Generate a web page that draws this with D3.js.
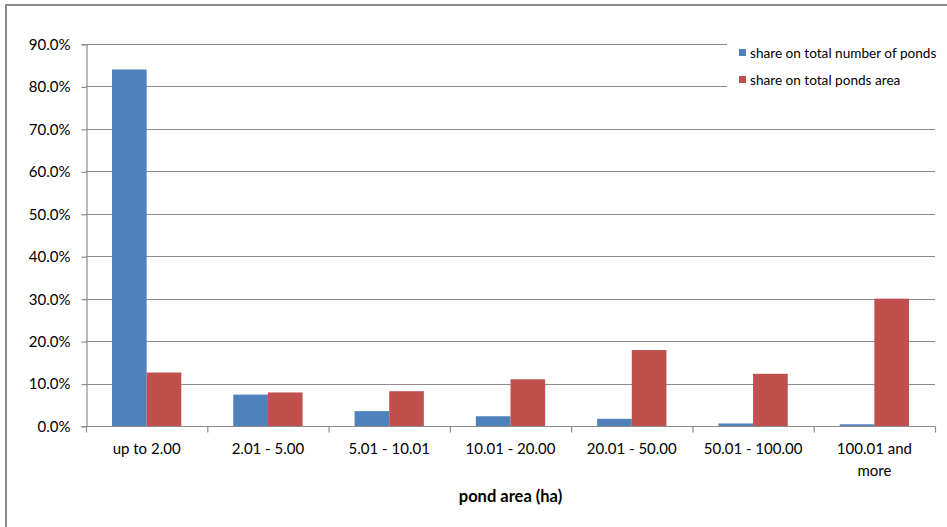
<!DOCTYPE html>
<html>
<head>
<meta charset="utf-8">
<script src="https://cdn.jsdelivr.net/npm/d3@7"></script>
<style>
  html, body { margin: 0; padding: 0; background: #fff; }
  svg { display: block; }
  text { font-family: Lato, "Open Sans", sans-serif; fill: #000; }
</style>
</head>
<body>
<svg id="chart" width="947" height="527"></svg>
<script>
// Pond size classes (ha)
const categories = ["up to 2.00", "2.01 - 5.00", "5.01 - 10.01", "10.01 - 20.00",
                    "20.01 - 50.00", "50.01 - 100.00", "100.01 and more"];
const seriesNames = ["share on total number of ponds", "share on total ponds area"];
const shareCount = [84.0, 7.4, 3.5, 2.3, 1.7, 0.6, 0.4];
const shareArea  = [12.6, 7.9, 8.2, 11.0, 17.9, 12.3, 30.0];
const yTicks = [0, 10, 20, 30, 40, 50, 60, 70, 80, 90];
const xTitle = "pond area (ha)";

const colors = ["#4F81BD", "#C0504D"];
const series = [shareCount, shareArea];

const svg = d3.select("#chart");
const plot = { left: 86, right: 935, top: 44, bottom: 426 };

// outer frame (top and left edges visible)
svg.append("path")
  .attr("d", `M6,527 L6,5 L947,5`)
  .attr("fill", "none").attr("stroke", "#8a8a8a").attr("stroke-width", 2);

const x = d3.scaleBand().domain(categories).range([plot.left, plot.right]).paddingInner(0).paddingOuter(0);
const y = d3.scaleLinear().domain([0, 90]).range([plot.bottom, plot.top]);

// bar geometry: two bars per category, gap of 1.5 bar widths
const barW = x.bandwidth() / 3.5;
const xs = d3.scaleBand().domain([0, 1]).range([0, barW * 2]);

// gridlines
svg.append("g").selectAll("line").data(yTicks.filter(d => d > 0)).join("line")
  .attr("x1", plot.left).attr("x2", plot.right)
  .attr("y1", d => Math.round(y(d)) + 0.5).attr("y2", d => Math.round(y(d)) + 0.5)
  .attr("stroke", "#8c8c8c").attr("stroke-width", 1.2);

// y axis
const yAxis = d3.axisLeft(y).tickValues(yTicks).tickSize(5).tickPadding(11)
  .tickFormat(d => d.toFixed(1) + "%");
const gy = svg.append("g").attr("transform", `translate(${plot.left + 0.5},0)`).call(yAxis);
gy.select(".domain").attr("stroke", "#8c8c8c").attr("stroke-width", 1.2);
gy.selectAll(".tick line").attr("stroke", "#8c8c8c").attr("stroke-width", 1.2)
  .attr("transform", "translate(0,0.5)");
gy.selectAll(".tick text").attr("font-size", 15).attr("font-family", "Lato, sans-serif")
  .attr("fill", "#000").attr("dy", "0.36em").attr("y", 0);

// bars
series.forEach((vals, si) => {
  svg.append("g").selectAll("rect").data(vals).join("rect")
    .attr("x", (d, i) => x(categories[i]) + (x.bandwidth() - barW * 2) / 2 + xs(si))
    .attr("y", d => y(d))
    .attr("width", barW)
    .attr("height", d => y(0) - y(d))
    .attr("fill", colors[si]);
});

// x axis
const gx = svg.append("g").attr("transform", `translate(0,${plot.bottom + 0.5})`);
gx.append("line").attr("x1", plot.left).attr("x2", plot.right)
  .attr("stroke", "#8c8c8c").attr("stroke-width", 1.2);
const tickPos = categories.map(c => x(c)).concat([plot.right]);
gx.selectAll("line.tk").data(tickPos).join("line").attr("class", "tk")
  .attr("x1", d => d + 0.5).attr("x2", d => d + 0.5).attr("y1", 0).attr("y2", 6)
  .attr("stroke", "#8c8c8c").attr("stroke-width", 1.2);

// category labels, wrapped into at most two lines
const catLines = c => c === "100.01 and more" ? ["100.01 and", "more"] : [c];
svg.append("g").selectAll("text").data(categories).join("text")
  .attr("x", d => x(d) + x.bandwidth() / 2)
  .attr("y", 454)
  .attr("text-anchor", "middle").attr("font-size", 15)
  .each(function (d) {
    d3.select(this).selectAll("tspan").data(catLines(d)).join("tspan")
      .attr("x", x(d) + x.bandwidth() / 2)
      .attr("dy", (t, i) => i === 0 ? 0 : 22)
      .text(t => t);
  });

// axis title
svg.append("text").attr("x", (plot.left + plot.right) / 2).attr("y", 502)
  .attr("text-anchor", "middle").attr("font-size", 16.5).attr("font-weight", "bold")
  .text(xTitle);

// legend
const lg = svg.append("g");
lg.append("rect").attr("x", 727).attr("y", 36).attr("width", 218).attr("height", 62).attr("fill", "#fff");
seriesNames.forEach((name, i) => {
  const cy = 53 + i * 27;
  lg.append("rect").attr("x", 739).attr("y", cy - 4).attr("width", 7).attr("height", 7).attr("fill", colors[i]);
  lg.append("text").attr("x", 750).attr("y", cy).attr("dy", "0.35em")
    .attr("font-size", 13.6).text(name);
});
</script>
</body>
</html>
